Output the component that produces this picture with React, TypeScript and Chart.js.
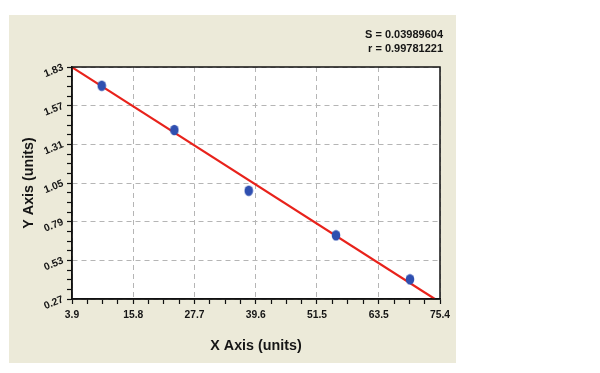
import React, { useEffect, useRef } from "react";
import { Chart, registerables } from "chart.js";

Chart.register(...registerables);

const pointsX = [9.67, 23.78, 38.23, 55.19, 69.57];
const pointsY = [1.704, 1.406, 0.998, 0.698, 0.402];
const fitX = [3.9, 74.4];
const fitY = [1.828, 0.27];
const xTickLabels = ["3.9", "15.8", "27.7", "39.6", "51.5", "63.5", "75.4"];
const yTickLabels = ["0.27", "0.53", "0.79", "1.05", "1.31", "1.57", "1.83"];
const statLines = ["S = 0.03989604", "r = 0.99781221"];
const xTitle = "X Axis (units)";
const yTitle = "Y Axis (units)";
const MINORS = 3;

function buildTicks(labels: string[]) {
  const vals = labels.map(Number);
  const ticks: { value: number; major: boolean; label: string }[] = [];
  for (let i = 0; i < vals.length; i++) {
    ticks.push({ value: vals[i], major: true, label: labels[i] });
    if (i < vals.length - 1) {
      const step = (vals[i + 1] - vals[i]) / (MINORS + 1);
      for (let k = 1; k <= MINORS; k++) {
        ticks.push({ value: vals[i] + step * k, major: false, label: "" });
      }
    }
  }
  return ticks;
}

function makeEllipse(): HTMLCanvasElement {
  const c = document.createElement("canvas");
  c.width = 10;
  c.height = 12;
  const g = c.getContext("2d")!;
  g.fillStyle = "#2f4fb0";
  g.beginPath();
  g.ellipse(5, 6, 4.3, 5.3, 0, 0, Math.PI * 2);
  g.fill();
  return c;
}

const FONT = "'Liberation Sans', Arial, sans-serif";

export default function App() {
  const ref = useRef<HTMLCanvasElement | null>(null);
  useEffect(() => {
    if (!ref.current) return;
    const xt = buildTicks(xTickLabels);
    const yt = buildTicks(yTickLabels);
    const bgPlugin = {
      id: "bg",
      beforeDraw(chart: any) {
        const ctx = chart.ctx;
        const a = chart.chartArea;
        ctx.save();
        ctx.fillStyle = "#ffffff";
        ctx.fillRect(0, 0, chart.width, chart.height);
        ctx.fillStyle = "#ecead9";
        ctx.fillRect(9, 15, 447, 348);
        ctx.fillStyle = "#ffffff";
        ctx.fillRect(a.left, a.top, a.right - a.left, a.bottom - a.top);
        ctx.restore();
      },
      afterDraw(chart: any) {
        const ctx = chart.ctx;
        const a = chart.chartArea;
        ctx.save();
        ctx.strokeStyle = "#111111";
        ctx.lineWidth = 1.5;
        ctx.strokeRect(a.left, a.top, a.right - a.left, a.bottom - a.top);
        ctx.fillStyle = "#151515";
        ctx.font = "bold 11px " + FONT;
        ctx.textAlign = "right";
        ctx.textBaseline = "middle";
        ctx.fillText(statLines[0], a.right + 3, 35);
        ctx.fillText(statLines[1], a.right + 3, 49);
        ctx.restore();
      },
    };
    const gridOpts = {
      color: (c: any) => (c.tick && c.tick.major ? "#b5b5b5" : "rgba(0,0,0,0)"),
      lineWidth: 1,
      tickLength: 5,
      tickColor: "#111111",
      tickWidth: 1.2,
      tickBorderDash: [],
    } as any;
    const chart = new Chart(ref.current, {
      type: "scatter",
      data: {
        datasets: [
          {
            type: "line",
            data: fitX.map((x, i) => ({ x, y: fitY[i] })),
            borderColor: "#e8221b",
            borderWidth: 2.2,
            pointRadius: 0,
            fill: false,
            order: 2,
          } as any,
          {
            data: pointsX.map((x, i) => ({ x, y: pointsY[i] })),
            pointStyle: makeEllipse() as any,
            pointRadius: 5,
            order: 1,
          },
        ],
      },
      plugins: [bgPlugin],
      options: {
        animation: false,
        responsive: false,
        devicePixelRatio: 1,
        layout: { padding: { left: 0, top: 67, right: 160, bottom: 0 } },
        plugins: { legend: { display: false }, tooltip: { enabled: false } },
        scales: {
          x: {
            type: "linear",
            min: Number(xTickLabels[0]),
            max: Number(xTickLabels[xTickLabels.length - 1]),
            afterBuildTicks: (s: any) => {
              s.ticks = xt.map((t) => ({ value: t.value, major: t.major }));
            },
            afterFit: (s: any) => {
              s.height = 74;
            },
            ticks: {
              autoSkip: false,
              maxRotation: 0,
              padding: 5,
              color: "#151515",
              font: { family: FONT, size: 10.3, weight: "bold" },
              callback: (_v: any, i: number) => (xt[i] ? xt[i].label : ""),
            },
            grid: gridOpts,
            border: { display: true, color: "#111111", width: 1.5, dash: [5, 4] },
            title: {
              display: true,
              text: xTitle,
              color: "#151515",
              font: { family: FONT, size: 14.3, weight: "bold" },
              padding: { top: 0, bottom: 18 },
            },
          },
          y: {
            type: "linear",
            min: Number(yTickLabels[0]),
            max: Number(yTickLabels[yTickLabels.length - 1]),
            afterBuildTicks: (s: any) => {
              s.ticks = yt.map((t) => ({ value: t.value, major: t.major }));
            },
            afterFit: (s: any) => {
              s.width = 72;
            },
            ticks: {
              autoSkip: false,
              minRotation: 22,
              maxRotation: 22,
              padding: 4,
              color: "#151515",
              font: { family: FONT, size: 10.3, weight: "bold" },
              callback: (_v: any, i: number) => (yt[i] ? yt[i].label : ""),
            },
            grid: gridOpts,
            border: { display: true, color: "#111111", width: 1.5, dash: [5, 4] },
            title: {
              display: true,
              text: yTitle,
              color: "#151515",
              font: { family: FONT, size: 14.3, weight: "bold" },
              padding: { top: 20, bottom: 0 },
            },
          },
        },
      } as any,
    });
    return () => chart.destroy();
  }, []);
  return (
    <div style={{ position: "fixed", left: 0, top: 0, width: 600, height: 373 }}>
      <canvas ref={ref} width={600} height={373} style={{ width: 600, height: 373, display: "block" }} />
    </div>
  );
}
